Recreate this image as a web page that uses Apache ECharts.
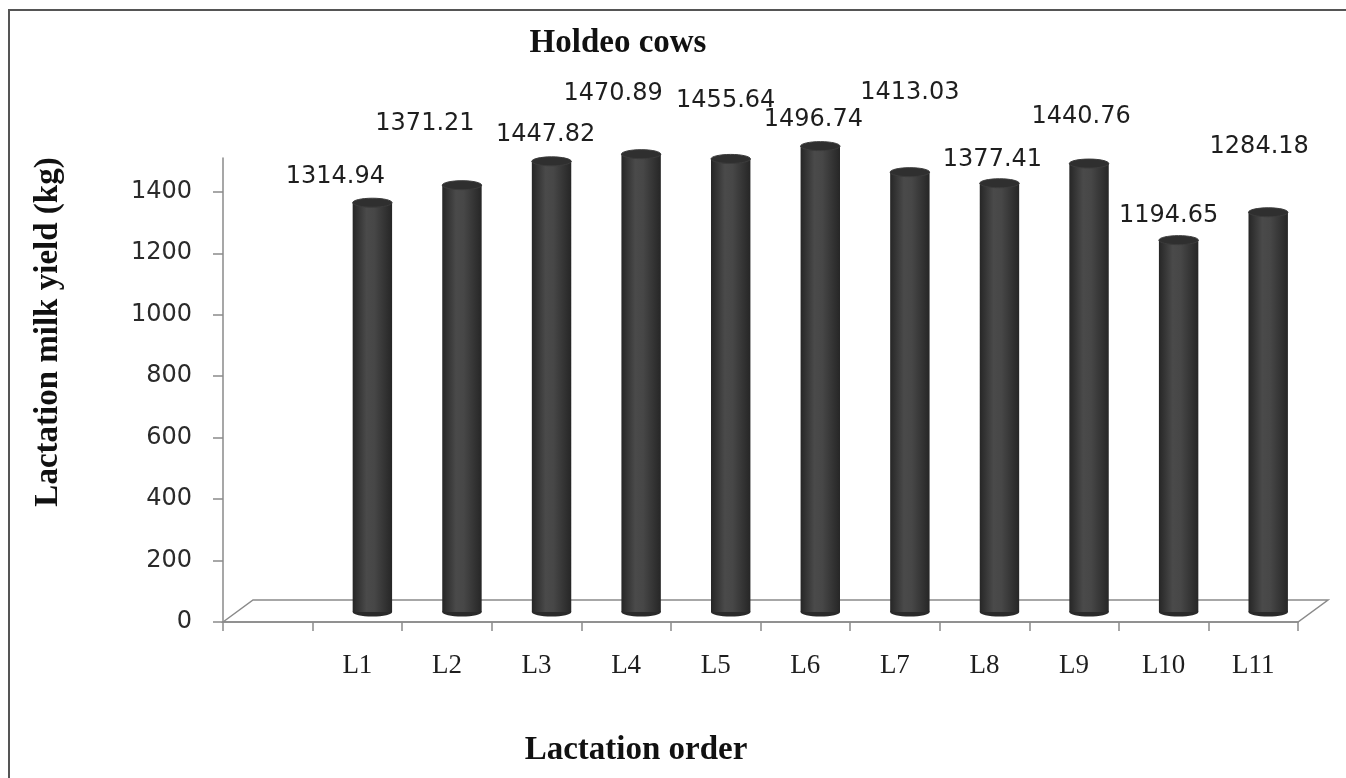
<!DOCTYPE html>
<html>
<head>
<meta charset="utf-8">
<title>Holdeo cows - lactation milk yield</title>
<script src="https://cdn.jsdelivr.net/npm/echarts@6/dist/echarts.min.js"></script>
<style>
  html, body { margin: 0; padding: 0; background: #ffffff; }
  #chart { width: 1346px; height: 778px; }
</style>
</head>
<body>
<div id="chart"></div>
<script>
// ---- data ----
const chartTitle = 'Holdeo cows';
const xTitle = 'Lactation order';
const yTitle = 'Lactation milk yield (kg)';
const categories = ['L1', 'L2', 'L3', 'L4', 'L5', 'L6', 'L7', 'L8', 'L9', 'L10', 'L11'];
const milkYield = [1314.94, 1371.21, 1447.82, 1470.89, 1455.64, 1496.74, 1413.03, 1377.41, 1440.76, 1194.65, 1284.18];
const yTicks = [0, 200, 400, 600, 800, 1000, 1200, 1400];

// ---- layout ----
// value-label nudges [dx, dy] measured from the top of each cylinder
const labelNudge = [[-37, -21], [-37, -57], [-6, -22], [-28, -56], [-5, -54], [-7, -22],
                    [0, -75], [-7, -19], [-8, -42], [-10, -20], [-9, -61]];
const W = 1346, H = 778;
const GRID = { left: 223, right: 48, top: 158, bottom: 156 };
const FLOOR_DEPTH = { dx: 30, dy: -22 };     // 3-D floor depth
const WALL = { left: 238, right: 33, top: 142, bottom: 166 };  // plane the cylinders stand in
const Y_MAX = 1510;

// first slot of the category axis is left empty, as in the 3-D layout
const axisCats = [''].concat(categories);

const chart = echarts.init(document.getElementById('chart'), null, { renderer: 'canvas' });

function renderCylinder(params, api) {
  const i = params.dataIndex;
  const cat = api.value(0);
  const v = api.value(1);
  const top = api.coord([cat, v]);
  const base = api.coord([cat, 0]);
  const band = api.size([1, 0])[0];
  const w = band * 0.44;
  const rx = w / 2, ry = 4.5;
  const cx = top[0];
  const body = new echarts.graphic.LinearGradient(0, 0, 1, 0, [
    { offset: 0, color: '#262626' },
    { offset: 0.35, color: '#4a4a4a' },
    { offset: 0.55, color: '#474747' },
    { offset: 1, color: '#262626' }
  ]);
  const nudge = labelNudge[i] || [0, -20];
  return {
    type: 'group',
    children: [
      { type: 'ellipse', shape: { cx: cx, cy: base[1], rx: rx, ry: ry },
        style: { fill: '#2a2a2a' } },
      { type: 'rect', shape: { x: cx - rx, y: top[1], width: w, height: base[1] - top[1] },
        style: { fill: body } },
      { type: 'ellipse', shape: { cx: cx, cy: top[1], rx: rx, ry: ry },
        style: { fill: '#2f2f2f', stroke: '#3c3c3c', lineWidth: 1 } },
      { type: 'text', x: cx + nudge[0], y: top[1] - ry + nudge[1],
        style: { text: v.toFixed(2), font: '24px "DejaVu Sans"', fill: '#1e1e1e',
                 align: 'center', verticalAlign: 'middle' } }
    ]
  };
}

const floorY = H - GRID.bottom;
const floorPts = [
  [GRID.left, floorY],
  [GRID.left + FLOOR_DEPTH.dx, floorY + FLOOR_DEPTH.dy],
  [W - GRID.right + FLOOR_DEPTH.dx, floorY + FLOOR_DEPTH.dy],
  [W - GRID.right, floorY]
];

const option = {
  backgroundColor: '#ffffff',
  animation: false,
  grid: [
    { left: GRID.left, right: GRID.right, top: GRID.top, bottom: GRID.bottom, containLabel: false },
    { left: WALL.left, right: WALL.right, top: WALL.top, bottom: WALL.bottom, containLabel: false }
  ],
  xAxis: [
    {
      type: 'category', gridIndex: 0, data: axisCats, boundaryGap: true,
      axisLine: { show: true, lineStyle: { color: '#8a8a8a', width: 1.5 } },
      axisTick: { show: true, inside: false, length: 9, alignWithLabel: false,
                  lineStyle: { color: '#8a8a8a', width: 1.5 } },
      axisLabel: { show: true, margin: 30, fontFamily: 'Liberation Serif', fontSize: 27, color: '#1e1e1e' },
      splitLine: { show: false }
    },
    {
      type: 'category', gridIndex: 1, data: axisCats, boundaryGap: true, show: false
    }
  ],
  yAxis: [
    {
      type: 'value', gridIndex: 0, min: 0, max: Y_MAX,
      axisLine: { show: true, lineStyle: { color: '#8a8a8a', width: 1.5 } },
      axisTick: { show: true, inside: false, length: 10, customValues: yTicks,
                  lineStyle: { color: '#8a8a8a', width: 1.5 } },
      axisLabel: { show: true, margin: 31, customValues: yTicks, fontFamily: 'DejaVu Sans',
                   fontSize: 24, color: '#2a2a2a', formatter: (v) => String(v) },
      splitLine: { show: false }
    },
    {
      type: 'value', gridIndex: 1, min: 0, max: Y_MAX, show: false, splitLine: { show: false }
    }
  ],
  graphic: [
    // outer frame
    { type: 'polyline', z: 0, silent: true,
      shape: { points: [[9, H], [9, 10], [W, 10]] },
      style: { stroke: '#555', lineWidth: 2, fill: null } },
    // 3-D floor
    { type: 'polygon', z: 1, silent: true,
      shape: { points: floorPts },
      style: { fill: 'rgba(255,255,255,0)', stroke: '#8a8a8a', lineWidth: 1.5 } },
    // titles
    { type: 'text', z: 5, x: 618, y: 43, silent: true,
      style: { text: chartTitle, font: 'bold 33px "Liberation Serif"', fill: '#111',
               align: 'center', verticalAlign: 'middle' } },
    { type: 'text', z: 5, x: 636, y: 750, silent: true,
      style: { text: xTitle, font: 'bold 33px "Liberation Serif"', fill: '#111',
               align: 'center', verticalAlign: 'middle' } },
    { type: 'text', z: 5, x: 48, y: 332, rotation: Math.PI / 2, silent: true,
      style: { text: yTitle, font: 'bold 33px "Liberation Serif"', fill: '#111',
               align: 'center', verticalAlign: 'middle' } }
  ],
  series: [
    {
      type: 'custom', name: 'Milk yield', xAxisIndex: 1, yAxisIndex: 1, z: 5, clip: false,
      renderItem: renderCylinder,
      data: categories.map((c, i) => [c, milkYield[i]])
    }
  ]
};

chart.setOption(option);
</script>
</body>
</html>
